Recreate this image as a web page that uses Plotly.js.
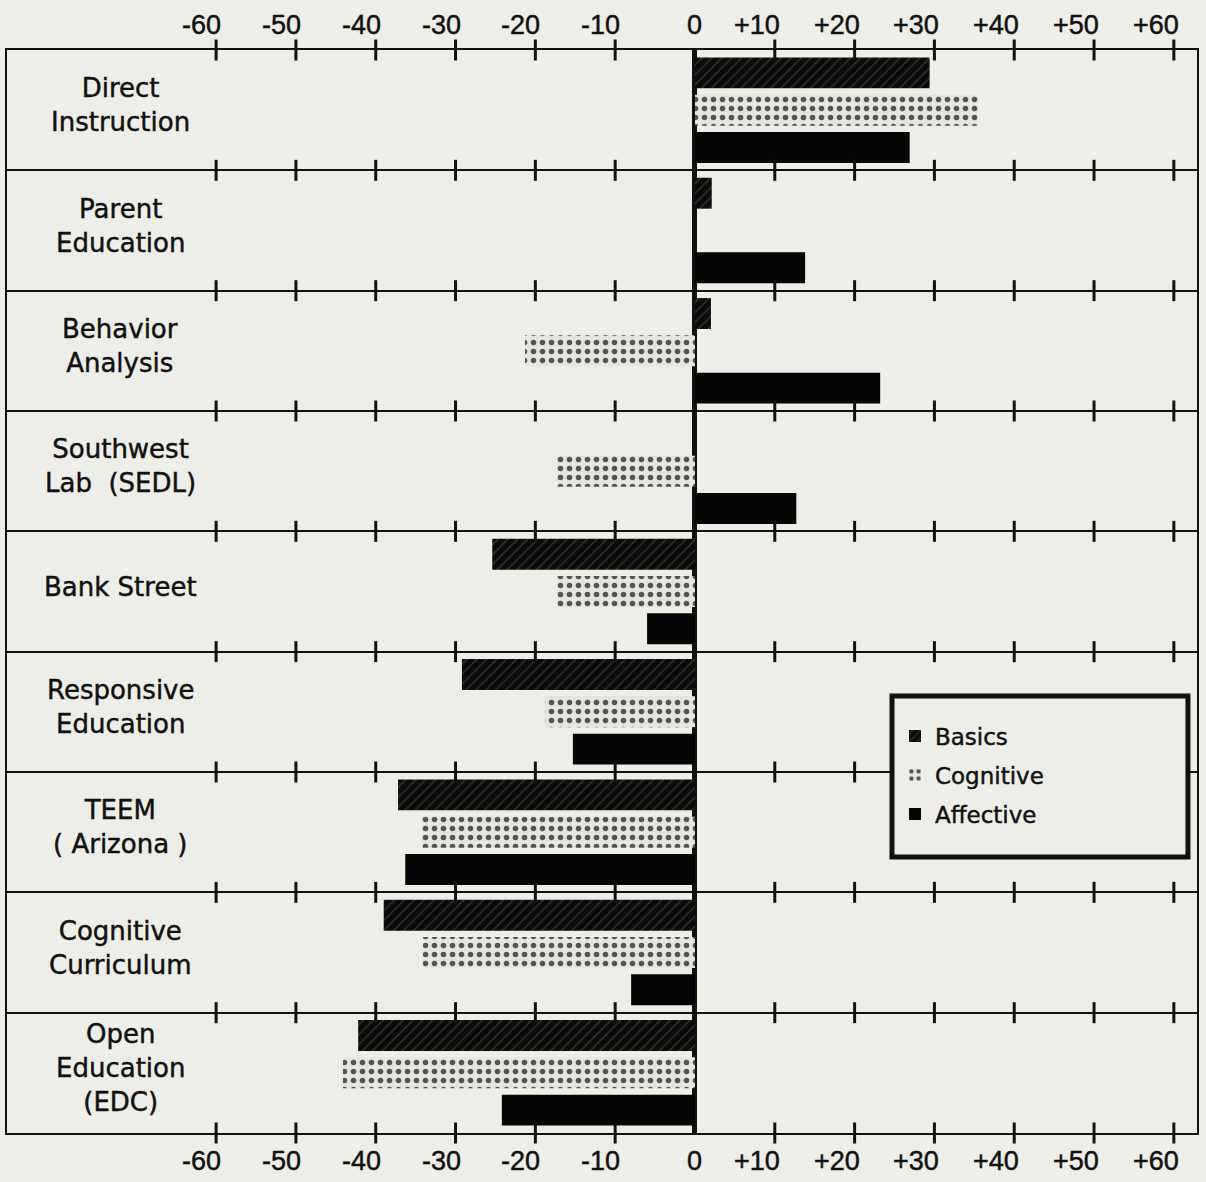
<!DOCTYPE html>
<html>
<head>
<meta charset="utf-8">
<script src="https://cdn.plot.ly/plotly-3.0.1.min.js"></script>
<style>
  html, body { margin: 0; padding: 0; background: #eeeee8; }
  #chart { width: 1206px; height: 1182px; }
  #chart svg text { stroke: #111111; stroke-width: 0.45px; }
</style>
</head>
<body>
<div id="chart"></div>
<script>
// ---- data ----
const categories = [
  "Direct<br>Instruction",
  "Parent<br>Education",
  "Behavior<br>Analysis",
  "Southwest<br>Lab  (SEDL)",
  "Bank Street",
  "Responsive<br>Education",
  "TEEM<br>( Arizona )",
  "Cognitive<br>Curriculum",
  "Open<br>Education<br>(EDC)"
];
const basics    = [29.4, 2.1, 2.0, null, -25.4, -29.2, -37.2, -39.0, -42.2];
const cognitive = [35.5, null, -21.3, -17.3, -17.3, -18.8, -34.2, -34.1, -44.1];
const affective = [26.9, 13.8, 23.2, 12.7, -6.0, -15.3, -36.3, -8.0, -24.2];
const seriesNames = ["Basics", "Cognitive", "Affective"];
const tickVals = [-60, -50, -40, -30, -20, -10, 0, 10, 20, 30, 40, 50, 60];
const tickText = ["-60", "-50", "-40", "-30", "-20", "-10", "0", "+10", "+20", "+30", "+40", "+50", "+60"];

// ---- styling ----
const LABEL_FONT = "DejaVu Sans, Verdana, sans-serif";
const TICK_FONT = "Liberation Sans, Arial, Helvetica, sans-serif";
const INK = "#111111";
const BG = "#eeeee8";

const traces = [
  {
    type: "bar", orientation: "h", name: seriesNames[0], legendgroup: "g1",
    y: categories, x: basics,
    marker: { color: "#0d0d0d", line: { width: 0 },
      pattern: { shape: "/", fgcolor: "#353532", bgcolor: "#0b0b0b", size: 7, solidity: 0.2 } }
  },
  {
    type: "bar", orientation: "h", name: seriesNames[1], legendgroup: "g2",
    y: categories, x: cognitive,
    marker: { color: "#e6e6e0", line: { width: 0 },
      pattern: { shape: ".", fgcolor: "#55554f", bgcolor: "#e6e6e0", size: 9, solidity: 0.3 } }
  },
  {
    type: "bar", orientation: "h", name: seriesNames[2], legendgroup: "g3",
    y: categories, x: affective,
    marker: { color: "#050505", line: { width: 0 } }
  }
];

// tick crosses on every category boundary line
const tickX = [], tickY = [];
for (let i = 0; i <= categories.length; i++) {
  tickVals.forEach(v => { if (v !== 0) { tickX.push(v); tickY.push(i - 0.5); } });
}
traces.push({
  type: "scatter", mode: "markers", x: tickX, y: tickY, yaxis: "y2",
  showlegend: false, hoverinfo: "skip", cliponaxis: false,
  marker: { symbol: "line-ns", size: 15, line: { color: INK, width: 3 } }
});

const annotations = [];
// category labels
categories.forEach(c => {
  annotations.push({
    x: 0.095, xref: "paper", xanchor: "center",
    y: c, yref: "y", yanchor: "middle", yshift: 5,
    text: c, showarrow: false, align: "center",
    font: { family: LABEL_FONT, size: 26, color: INK }
  });
});
// x tick labels top & bottom
tickVals.forEach((v, i) => {
  const common = {
    x: v, xref: "x", xanchor: v === 0 ? "center" : "right", xshift: v === 0 ? 0 : 7,
    yref: "paper", text: tickText[i], showarrow: false,
    font: { family: TICK_FONT, size: 27, color: INK }
  };
  annotations.push(Object.assign({}, common, { y: 1, yanchor: "bottom", yshift: 8 }));
  annotations.push(Object.assign({}, common, { y: 0, yanchor: "top", yshift: -11 }));
});

const n = categories.length;
const layout = {
  width: 1206, height: 1182,
  margin: { l: 7, r: 9, t: 50, b: 49 },
  paper_bgcolor: BG, plot_bgcolor: BG,
  barmode: "group", bargap: 0.07, bargroupgap: 0.17,
  font: { family: LABEL_FONT, color: INK },
  xaxis: {
    range: [-86.2, 62.9], showgrid: false, showticklabels: false, ticks: "",
    zeroline: true, zerolinecolor: INK, zerolinewidth: 5,
    showline: true, mirror: true, linecolor: INK, linewidth: 2
  },
  yaxis: {
    type: "category", range: [n - 0.5, -0.5], tickson: "boundaries",
    showgrid: true, gridcolor: INK, gridwidth: 2,
    showticklabels: false, ticks: "",
    showline: true, mirror: true, linecolor: INK, linewidth: 2
  },
  yaxis2: {
    overlaying: "y", range: [n - 0.5, -0.5], visible: false, showgrid: false, zeroline: false
  },
  // legend frame
  shapes: [{
    type: "rect", xref: "paper", yref: "paper", layer: "above",
    x0: 0.7437, x1: 0.9924, y0: 0.2548, y1: 0.4035,
    fillcolor: BG, line: { color: INK, width: 5 }
  }],
  showlegend: true,
  legend: {
    orientation: "v",
    x: 0.7462, xanchor: "left", y: 0.3863, yanchor: "top",
    bgcolor: "rgba(0,0,0,0)", borderwidth: 0,
    font: { family: LABEL_FONT, size: 23, color: INK },
    tracegroupgap: 6
  },
  annotations: annotations
};

Plotly.newPlot("chart", traces, layout, { staticPlot: true, displayModeBar: false });
</script>
</body>
</html>
